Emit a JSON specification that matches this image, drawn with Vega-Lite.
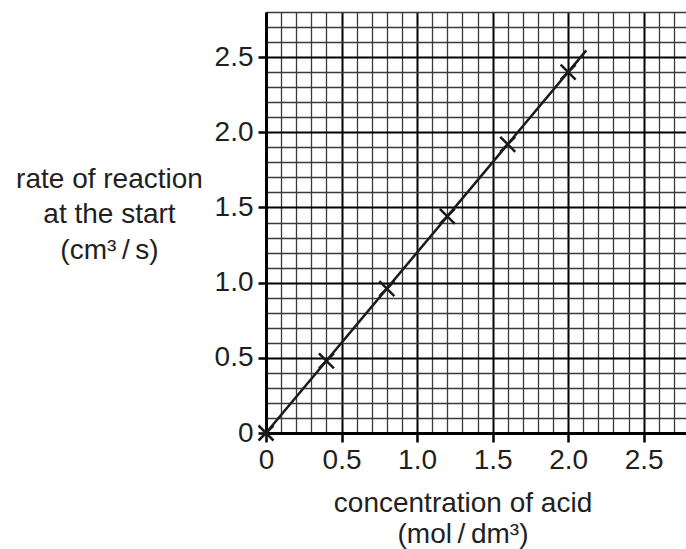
{
  "$schema": "https://vega.github.io/schema/vega-lite/v6.json",
  "autosize": "none",
  "width": 420,
  "height": 421,
  "padding": {"left": 266, "top": 12, "right": 0, "bottom": 116},
  "background": "white",
  "config": {"view": {"stroke": null}, "font": "Liberation Sans"},
  "datasets": {
    "points": [
      {"x": 0, "y": 0},
      {"x": 0.4, "y": 0.48},
      {"x": 0.8, "y": 0.96},
      {"x": 1.2, "y": 1.44},
      {"x": 1.6, "y": 1.92},
      {"x": 2.0, "y": 2.4}
    ],
    "fit": [
      {"x": 0, "y": 0},
      {"x": 2.12, "y": 2.545}
    ]
  },
  "encoding": {
    "x": {
      "field": "x", "type": "quantitative",
      "scale": {"domain": [0, 2.78], "nice": false, "zero": true},
      "axis": {
        "values": [0,0.1,0.2,0.3,0.4,0.5,0.6,0.7,0.8,0.9,1.0,1.1,1.2,1.3,1.4,1.5,1.6,1.7,1.8,1.9,2.0,2.1,2.2,2.3,2.4,2.5,2.6,2.7],
        "grid": true,
        "gridColor": {"condition": {"test": "abs(datum.value*2 - round(datum.value*2)) < 0.001", "value": "#000000"}, "value": "#3a3a3a"},
        "gridWidth": {"condition": {"test": "abs(datum.value*2 - round(datum.value*2)) < 0.001", "value": 2}, "value": 1.3},
        "gridOpacity": 1,
        "tickSize": {"condition": {"test": "abs(datum.value*2 - round(datum.value*2)) < 0.001", "value": 9}, "value": 0},
        "tickColor": "#000000",
        "tickWidth": 2.5,
        "domainColor": "#000000",
        "domainWidth": 3,
        "labelExpr": "abs(datum.value*2 - round(datum.value*2)) < 0.001 ? (datum.value == 0 ? '0' : format(datum.value, '.1f')) : ''",
        "labelOverlap": false,
        "labelFont": "Liberation Sans",
        "labelFontSize": 28,
        "labelColor": "#231f20",
        "labelPadding": 4,
        "labelFlush": false,
        "title": ["concentration of acid", "(mol\u2009/\u2009dm³)"],
        "titleFont": "Liberation Sans",
        "titleFontSize": 28,
        "titleFontWeight": "normal",
        "titleColor": "#231f20",
        "titleAlign": "center",
        "titleBaseline": "alphabetic",
        "titleLineHeight": 31,
        "titleX": 196.5,
        "titleY": 78,
        "zindex": 0
      }
    },
    "y": {
      "field": "y", "type": "quantitative",
      "scale": {"domain": [0, 2.8], "nice": false, "zero": true},
      "axis": {
        "values": [0,0.1,0.2,0.3,0.4,0.5,0.6,0.7,0.8,0.9,1.0,1.1,1.2,1.3,1.4,1.5,1.6,1.7,1.8,1.9,2.0,2.1,2.2,2.3,2.4,2.5,2.6,2.7,2.8],
        "grid": true,
        "gridColor": {"condition": {"test": "abs(datum.value*2 - round(datum.value*2)) < 0.001", "value": "#000000"}, "value": "#3a3a3a"},
        "gridWidth": {"condition": {"test": "abs(datum.value*2 - round(datum.value*2)) < 0.001", "value": 2}, "value": 1.3},
        "gridOpacity": 1,
        "tickSize": {"condition": {"test": "abs(datum.value*2 - round(datum.value*2)) < 0.001", "value": 8}, "value": 0},
        "tickColor": "#000000",
        "tickWidth": 2.5,
        "domainColor": "#000000",
        "domainWidth": 3,
        "labelExpr": "abs(datum.value*2 - round(datum.value*2)) < 0.001 ? (datum.value == 0 ? '0' : format(datum.value, '.1f')) : ''",
        "labelOverlap": false,
        "labelFont": "Liberation Sans",
        "labelFontSize": 28,
        "labelColor": "#231f20",
        "labelPadding": 5,
        "labelFlush": false,
        "title": ["rate of reaction", "at the start", "(cm³\u2009/\u2009s)"],
        "titleFont": "Liberation Sans",
        "titleFontSize": 28,
        "titleFontWeight": "normal",
        "titleColor": "#231f20",
        "titleAngle": 0,
        "titleAlign": "center",
        "titleBaseline": "alphabetic",
        "titleLineHeight": 35.5,
        "titleX": -157,
        "titleY": 175,
        "zindex": 0
      }
    }
  },
  "layer": [
    {
      "data": {"name": "fit"},
      "mark": {"type": "line", "color": "#1a1a1a", "strokeWidth": 2.5, "clip": false}
    },
    {
      "data": {"name": "points"},
      "mark": {"type": "point", "shape": "M-1,-1L1,1M-1,1L1,-1", "filled": false, "stroke": "#1a1a1a", "strokeWidth": 2.5, "size": 225, "opacity": 1, "clip": false}
    }
  ]
}
